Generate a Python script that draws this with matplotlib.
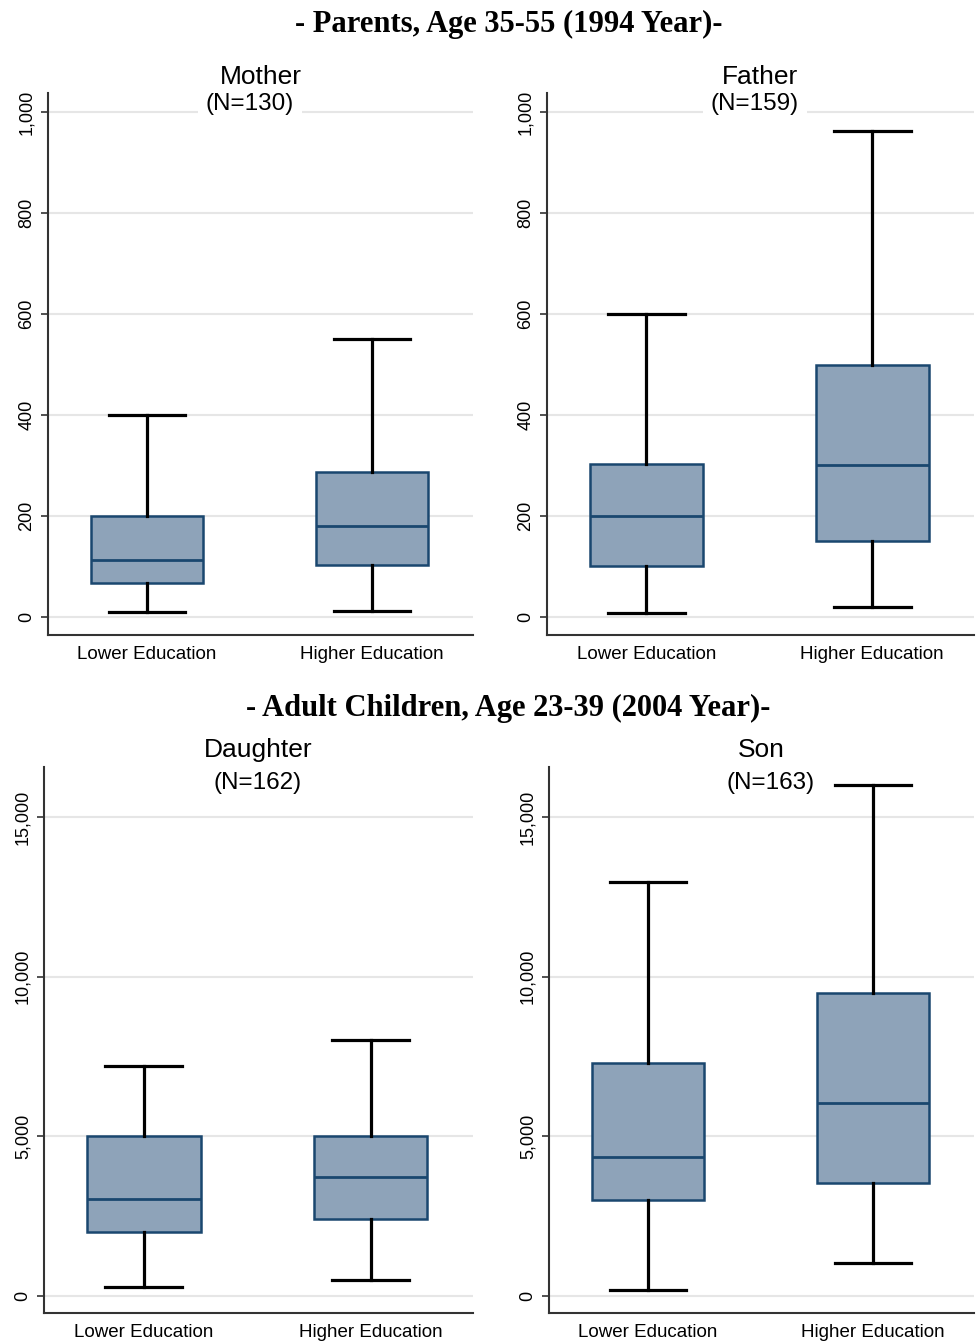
import matplotlib
matplotlib.use("Agg")
import matplotlib.pyplot as plt
from matplotlib.ticker import FuncFormatter

plt.rcParams['font.family'] = ['Liberation Sans', 'DejaVu Sans']

groups = ["Lower Education", "Higher Education"]

# each list: lower whisker, Q1, median, Q3, upper whisker
mother_lo = [10, 67, 113, 200, 400]
mother_hi = [12, 103, 180, 287, 550]
father_lo = [8, 101, 200, 303, 600]
father_hi = [20, 150, 301, 499, 962]
daughter_lo = [290, 2000, 3030, 5020, 7210]
daughter_hi = [500, 2400, 3720, 5010, 8020]
son_lo = [200, 3000, 4340, 7310, 12980]
son_hi = [1030, 3530, 6030, 9500, 16000]

top_ticks = [0, 200, 400, 600, 800, 1000]
bottom_ticks = [0, 5000, 10000, 15000]

FILL = "#8ea3b9"
NAVY = "#1a476f"

fig = plt.figure(figsize=(9.76, 13.41), dpi=100)


def stats(v):
    return dict(whislo=v[0], q1=v[1], med=v[2], q3=v[3], whishi=v[4], fliers=[])


def panel(rect, name, n, lo, hi, ylim, ticks, ty, ny, nx=0.5):
    ax = fig.add_axes(rect)
    ax.bxp([stats(lo), stats(hi)], positions=[1, 2], widths=0.5,
           patch_artist=True, showfliers=False, capwidths=0.34,
           boxprops=dict(facecolor=FILL, edgecolor=NAVY, linewidth=1.8),
           medianprops=dict(color=NAVY, linewidth=2),
           whiskerprops=dict(color="black", linewidth=2.3),
           capprops=dict(color="black", linewidth=2.3))
    ax.set_xlim(0.56, 2.45)
    ax.set_ylim(*ylim)
    ax.set_yticks(ticks)
    ax.yaxis.set_major_formatter(FuncFormatter(lambda v, p: "{:,.0f}".format(v)))
    ax.set_xticks([1, 2])
    ax.set_xticklabels(groups, fontsize=13.5)
    ax.tick_params(axis="x", length=0, pad=8)
    ax.tick_params(axis="y", length=5, width=1.2, color="#333333", labelsize=13, pad=4)
    for lab in ax.get_yticklabels():
        lab.set_rotation(90)
        lab.set_va("center")
    ax.set_axisbelow(True)
    ax.yaxis.grid(True, color="#e6e6e6", linewidth=1.5)
    ax.spines["top"].set_visible(False)
    ax.spines["right"].set_visible(False)
    ax.spines["left"].set_color("#333333")
    ax.spines["bottom"].set_color("#333333")
    ax.spines["left"].set_linewidth(1.5)
    ax.spines["bottom"].set_linewidth(1.5)
    ax.text(0.5, ty, name, transform=ax.transAxes, ha="center", va="center", fontsize=19)
    ax.text(nx, ny, "(N=%d)" % n, transform=ax.transAxes, ha="center", va="center", fontsize=17.5,
            bbox=dict(facecolor="white", edgecolor="none", pad=6))
    return ax


panel([0.0492, 0.5265, 0.4355, 0.4042], "Mother", 130, mother_lo, mother_hi,
      (-36, 1038), top_ticks, 1.0295, 0.980, 0.475)
panel([0.5604, 0.5265, 0.4375, 0.4042], "Father", 159, father_lo, father_hi,
      (-36, 1038), top_ticks, 1.0295, 0.980, 0.487)
panel([0.0450, 0.0209, 0.4395, 0.4072], "Daughter", 162, daughter_lo, daughter_hi,
      (-535, 16570), bottom_ticks, 1.031, 0.971, 0.497)
panel([0.5625, 0.0209, 0.4355, 0.4072], "Son", 163, son_lo, son_hi,
      (-535, 16570), bottom_ticks, 1.031, 0.971, 0.522)

fig.text(0.521, 0.9814, "- Parents, Age 35-55 (1994 Year)-", ha="center", va="center",
         fontsize=22, fontweight="bold", family="Liberation Serif")
fig.text(0.521, 0.472, "- Adult Children, Age 23-39 (2004 Year)-", ha="center", va="center",
         fontsize=22, fontweight="bold", family="Liberation Serif")

fig.savefig("out.png", dpi=100)
